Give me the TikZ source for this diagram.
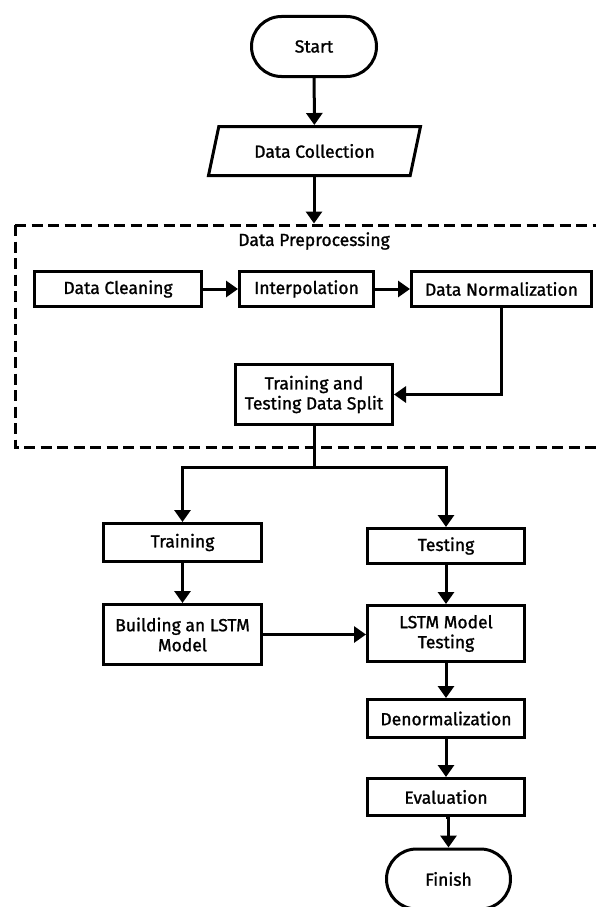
\documentclass[tikz,border=0pt]{standalone}
\usepackage{fontspec}
\setmainfont{Fira Sans}
\newfontfamily\lblfont{Fira Sans}[FakeBold=1.2]
\usetikzlibrary{arrows.meta,shapes.geometric,calc}
\begin{document}
\begin{tikzpicture}[x=1pt,y=-1pt,
  font=\lblfont\fontsize{17.5}{20}\selectfont,
  box/.style={draw=black,line width=3pt,rectangle,align=center,inner sep=2pt},
  term/.style={draw=black,line width=3pt,rectangle,rounded corners=30pt,minimum width=125pt,minimum height=60pt},
  arr/.style={line width=3pt,-{Triangle[width=16pt,length=12pt]}},
  ln/.style={line width=3pt},
  groupbox/.style={line width=3pt,dash pattern=on 11pt off 5.5pt}
]
\useasboundingbox (0,0) rectangle (596,907);
\fill[white] (0,0) rectangle (596,907);

\node[term] (start) at (314,46.5) {Start};
\node[draw=black,line width=3pt,trapezium,trapezium left angle=60,trapezium right angle=120,
      trapezium stretches body,minimum width=212pt,minimum height=49pt,inner sep=2pt] (dc) at (314.5,151) {Data Collection};

\draw[groupbox] (15,225) -- (15,447) -- (604,447);
\draw[groupbox] (15,225) -- (604,225);
\node (grp) at (314,241) {Data Preprocessing};

\node[box,minimum width=167pt,minimum height=35pt] (clean) at (118,289) {Data Cleaning};
\node[box,minimum width=134pt,minimum height=35pt] (interp) at (306.5,289) {Interpolation};
\node[box,minimum width=180pt,minimum height=35pt] (norm) at (501.5,289) {Data Normalization};
\node[box,minimum width=157pt,minimum height=60pt] (split) at (314,394.5) {Training and\\Testing Data Split};

\node[box,minimum width=158pt,minimum height=38pt] (train) at (182.5,542.5) {Training};
\node[box,minimum width=157pt,minimum height=35pt] (test) at (446,546) {Testing};
\node[box,minimum width=158pt,minimum height=60pt] (build) at (182.5,634.5) {Building an LSTM\\Model};
\node[box,minimum width=157pt,minimum height=56pt] (lstm) at (446,633.5) {LSTM Model\\Testing};
\node[box,minimum width=157pt,minimum height=38pt] (denorm) at (446,718.5) {Denormalization};
\node[box,minimum width=157pt,minimum height=37pt] (eval) at (446,797) {Evaluation};
\node[term,minimum width=124pt] (finish) at (448.5,879) {Finish};

\coordinate (j) at (314,467);

\draw[arr] (start) -- (dc);
\draw[arr] (dc.south -| start.south) -- (314,223.5);
\draw[arr] (clean) -- (interp);
\draw[arr] (interp) -- (norm);
\draw[arr] (norm.south) |- (split.east);
\draw[ln] (split.south) -- (j);
\draw[arr] (j) -| (train.north);
\draw[arr] (j) -| (test.north);
\draw[arr] (train) -- (build);
\draw[arr] (test) -- (lstm);
\draw[arr] (build.east) -- (build.east -| lstm.west);
\draw[arr] (lstm) -- (denorm);
\draw[arr] (denorm) -- (eval);
\draw[arr] (eval.south) -- (eval.south -| finish.north) -- (finish.north);
\end{tikzpicture}
\end{document}
